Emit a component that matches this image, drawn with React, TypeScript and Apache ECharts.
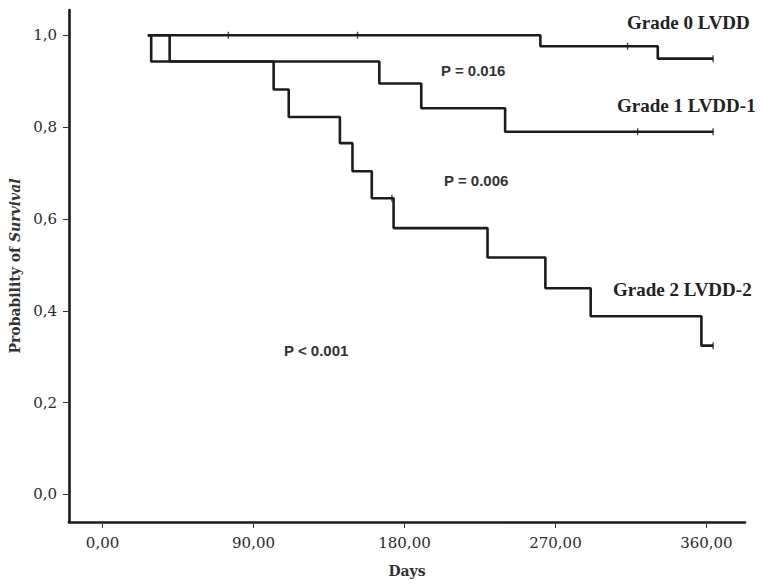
import React, { useEffect, useRef } from "react";
import * as echarts from "echarts";

// ---- Data ----
const xTickValues = [0, 90, 180, 270, 360];
const yTickValues = [0, 0.2, 0.4, 0.6, 0.8, 1.0];

// Grade 0 LVDD
const grade0Times = [27, 261, 331, 364];
const grade0Surv = [1.0, 0.976, 0.949, 0.949];
const grade0Censored = [75, 152, 313, 364];

// Grade 1 LVDD-1
const grade1Times = [27, 40, 165, 190, 240, 364];
const grade1Surv = [1.0, 0.943, 0.895, 0.841, 0.79, 0.79];
const grade1Censored = [319, 364];

// Grade 2 LVDD-2
const grade2Times = [27, 29, 102, 111, 141.5, 149, 160.5, 173.5, 229.5, 264, 291, 357, 364];
const grade2Surv = [1.0, 0.943, 0.882, 0.822, 0.765, 0.704, 0.645, 0.58, 0.516, 0.449, 0.388, 0.324, 0.324];
const grade2Censored = [172.5, 364];

const curveLabels = ["Grade 0 LVDD", "Grade 1 LVDD-1", "Grade 2 LVDD-2"];
const pValueLabels = ["P = 0.016", "P = 0.006", "P < 0.001"];

function survAt(times: number[], surv: number[], t: number): number {
  let v = surv[0];
  for (let i = 0; i < times.length; i++) {
    if (times[i] <= t) v = surv[i];
  }
  return v;
}

const LINE_COLOR = "#1c1c1c";

function curveSeries(name: string, times: number[], surv: number[]) {
  return {
    name,
    type: "line",
    step: "end",
    showSymbol: false,
    symbol: "none",
    data: times.map((t, i) => [t, surv[i]]),
    lineStyle: { color: LINE_COLOR, width: 2.6 },
    z: 3,
  };
}

function censorSeries(name: string, times: number[], surv: number[], cens: number[]) {
  return {
    name: name + " censored",
    type: "scatter",
    symbol: "rect",
    symbolSize: [1.4, 7],
    itemStyle: { color: LINE_COLOR },
    data: cens.map((t) => [t, survAt(times, surv, t)]),
    z: 4,
  };
}

export default function App() {
  const ref = useRef<HTMLDivElement | null>(null);

  useEffect(() => {
    if (!ref.current) return;
    const chart = echarts.init(ref.current, undefined, { renderer: "svg" });
    const tickFont = "'DejaVu Serif', serif";
    const labelFont = "'Liberation Serif', 'Times New Roman', serif";
    const pFont = "'Liberation Sans', Arial, sans-serif";

    chart.setOption({
      animation: false,
      backgroundColor: "#ffffff",
      grid: { left: 69, right: 17, top: 10, bottom: 64, containLabel: false },
      xAxis: {
        type: "value",
        min: -20,
        max: 383,
        splitLine: { show: false },
        axisLine: { show: true, onZero: false, lineStyle: { color: "#1a1a1a", width: 2.6 } },
        axisTick: {
          show: true,
          customValues: xTickValues,
          length: 6,
          lineStyle: { color: "#333", width: 1 },
        },
        axisLabel: {
          customValues: xTickValues,
          formatter: (v: number) => v.toFixed(2).replace(".", ","),
          fontFamily: tickFont,
          fontSize: 15,
          color: "#2a2a2a",
          margin: 13,
        },
        name: "Days",
        nameLocation: "middle",
        nameGap: 42,
        nameTextStyle: {
          fontFamily: tickFont,
          fontWeight: "bold",
          fontSize: 14,
          color: "#333",
        },
      },
      yAxis: {
        type: "value",
        min: -0.06,
        max: 1.055,
        splitLine: { show: false },
        axisLine: { show: true, onZero: false, lineStyle: { color: "#1a1a1a", width: 2.6 } },
        axisTick: {
          show: true,
          customValues: yTickValues,
          length: 6,
          lineStyle: { color: "#333", width: 1 },
        },
        axisLabel: {
          customValues: yTickValues,
          formatter: (v: number) => v.toFixed(1).replace(".", ","),
          fontFamily: tickFont,
          fontSize: 15,
          color: "#2a2a2a",
          margin: 12,
        },
        name: "{a|Probability of }{b|Survival}",
        nameLocation: "middle",
        nameRotate: 90,
        nameGap: 44,
        nameTextStyle: {
          rich: {
            a: { fontFamily: tickFont, fontWeight: "bold", fontSize: 14, color: "#333" },
            b: { fontFamily: tickFont, fontWeight: "bold", fontStyle: "italic", fontSize: 14, color: "#333" },
          },
        },
      },
      series: [
        curveSeries(curveLabels[0], grade0Times, grade0Surv),
        curveSeries(curveLabels[1], grade1Times, grade1Surv),
        curveSeries(curveLabels[2], grade2Times, grade2Surv),
        censorSeries(curveLabels[0], grade0Times, grade0Surv, grade0Censored),
        censorSeries(curveLabels[1], grade1Times, grade1Surv, grade1Censored),
        censorSeries(curveLabels[2], grade2Times, grade2Surv, grade2Censored),
      ],
      graphic: [
        { type: "text", left: 627, top: 13, style: { text: curveLabels[0], font: `bold 19px ${labelFont}`, fill: "#222" } },
        { type: "text", left: 617, top: 96, style: { text: curveLabels[1], font: `bold 19px ${labelFont}`, fill: "#222" } },
        { type: "text", left: 613, top: 280, style: { text: curveLabels[2], font: `bold 19px ${labelFont}`, fill: "#222" } },
        { type: "text", left: 441, top: 63, style: { text: pValueLabels[0], font: `bold 15px ${pFont}`, fill: "#333" } },
        { type: "text", left: 444, top: 173, style: { text: pValueLabels[1], font: `bold 15px ${pFont}`, fill: "#333" } },
        { type: "text", left: 284, top: 343, style: { text: pValueLabels[2], font: `bold 15px ${pFont}`, fill: "#333" } },
      ],
    });

    return () => {
      chart.dispose();
    };
  }, []);

  return (
    <div
      ref={ref}
      style={{ position: "fixed", left: 0, top: 0, width: 762, height: 586, background: "#fff" }}
    />
  );
}
